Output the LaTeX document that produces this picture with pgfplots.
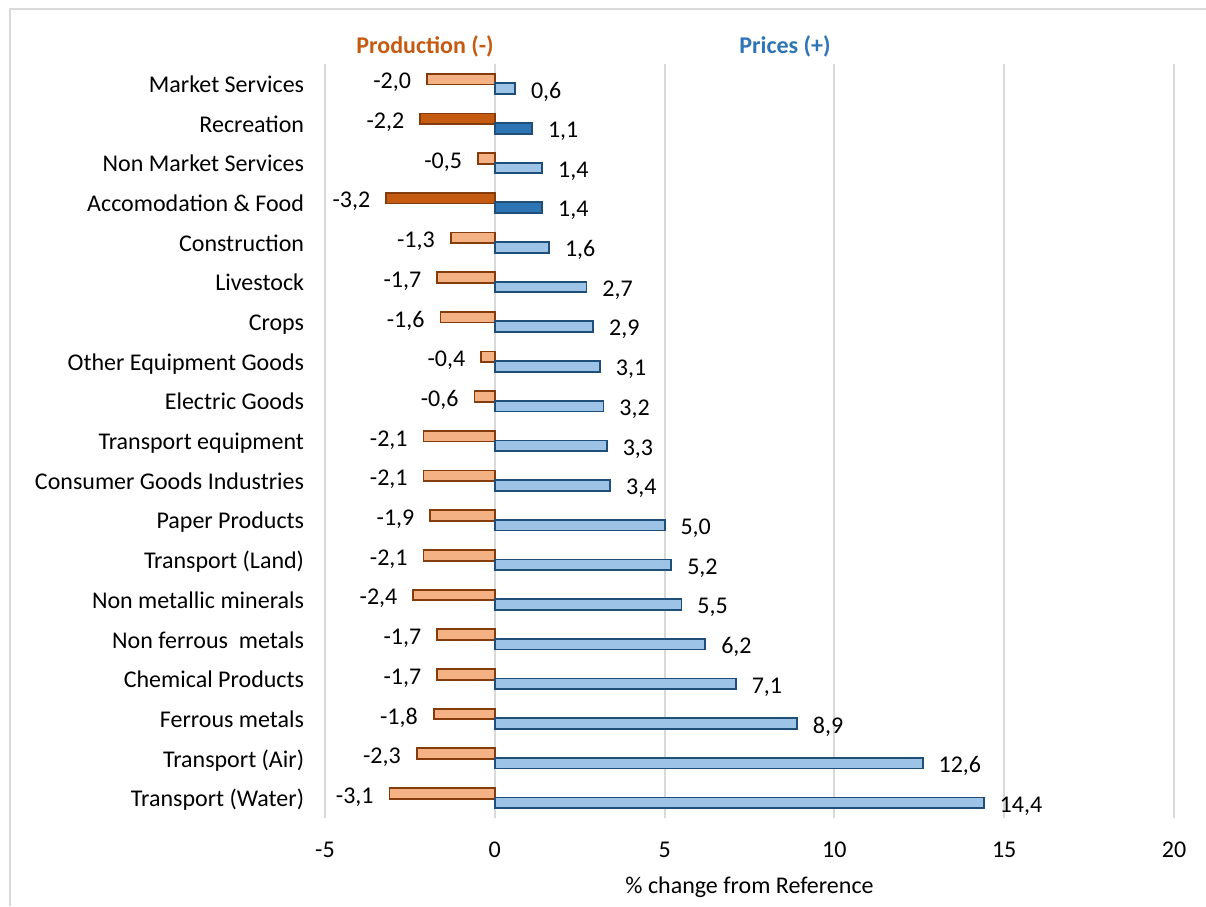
\documentclass[border=0pt,12pt]{standalone}
\usepackage{pgfplots}
\pgfplotsset{compat=1.18}
\usepackage{fontspec}
\setmainfont{Carlito}
\definecolor{prodL}{HTML}{F4B183}
\definecolor{prodD}{HTML}{C55A11}
\definecolor{prodE}{HTML}{843C0C}
\definecolor{priL}{HTML}{9DC3E6}
\definecolor{priD}{HTML}{2E75B6}
\definecolor{priE}{HTML}{1F4E79}
\definecolor{gridc}{HTML}{D9D9D9}
\begin{document}
\begin{tikzpicture}
\useasboundingbox (0,0) rectangle (603pt,453pt);
\draw[gridc, line width=1pt] (4.75pt,0) -- (4.75pt,448.25pt) -- (603pt,448.25pt);
\begin{axis}[
  at={(162.5pt,44pt)}, anchor=south west,
  scale only axis, width=424.5pt, height=377pt,
  xmin=-5, xmax=20, ymin=-0.5, ymax=18.5,
  xtick={-5,0,5,10,15,20},
  ytick={0,...,18},
  yticklabels={Transport (Water),Transport (Air),Ferrous metals,Chemical Products,Non ferrous\ \ metals,Non metallic minerals,Transport (Land),Paper Products,Consumer Goods Industries,Transport equipment,Electric Goods,Other Equipment Goods,Crops,Livestock,Construction,Accomodation \& Food,Non Market Services,Recreation,Market Services},
  xmajorgrids, ymajorgrids=false,
  grid style={gridc, line width=1pt},
  axis line style={draw=none},
  major tick style={draw=none},
  /pgf/number format/assume math mode=true,
  xticklabel style={yshift=-8pt},
  yticklabel style={xshift=-2pt, yshift=-1.6pt, text height=8pt, text depth=2.6pt},
  xbar, bar shift=0pt, bar width=0.27,
  nodes near coords,
  point meta=x,
  nodes near coords style={/pgf/number format/fixed, /pgf/number format/fixed zerofill, /pgf/number format/precision=1, /pgf/number format/use comma, /pgf/number format/assume math mode=true, text=black},
]
\addplot[fill=prodL, draw=prodE, line width=0.9pt, nodes near coords style={anchor=east, xshift=-3.5pt, yshift=-1.8pt}] coordinates {
(-3.1,0.12) (-2.3,1.12) (-1.8,2.12) (-1.7,3.12) (-1.7,4.12) (-2.4,5.12) (-2.1,6.12) (-1.9,7.12) (-2.1,8.12) (-2.1,9.12) (-0.6,10.12) (-0.4,11.12) (-1.6,12.12) (-1.7,13.12) (-1.3,14.12) (-0.5,16.12) (-2.0,18.12)};
\addplot[fill=prodD, draw=prodE, line width=0.9pt, nodes near coords style={anchor=east, xshift=-3.5pt, yshift=-1.8pt}] coordinates {
(-3.2,15.12) (-2.2,17.12)};
\addplot[fill=priL, draw=priE, line width=0.9pt, nodes near coords style={anchor=west, xshift=3.5pt, yshift=-1.5pt}] coordinates {
(14.4,-0.12) (12.6,0.88) (8.9,1.88) (7.1,2.88) (6.2,3.88) (5.5,4.88) (5.2,5.88) (5.0,6.88) (3.4,7.88) (3.3,8.88) (3.2,9.88) (3.1,10.88) (2.9,11.88) (2.7,12.88) (1.6,13.88) (1.4,15.88) (0.6,17.88)};
\addplot[fill=priD, draw=priE, line width=0.9pt, nodes near coords style={anchor=west, xshift=3.5pt, yshift=-1.5pt}] coordinates {
(1.4,14.88) (1.1,16.88)};
\end{axis}
\node[font=\bfseries, text=prodD] at (212.5pt,430pt) {Production (-)};
\node[font=\bfseries, text=priD] at (392.5pt,430pt) {Prices (+)};
\node at (374.75pt,9.5pt) {\% change from Reference};
\end{tikzpicture}
\end{document}
